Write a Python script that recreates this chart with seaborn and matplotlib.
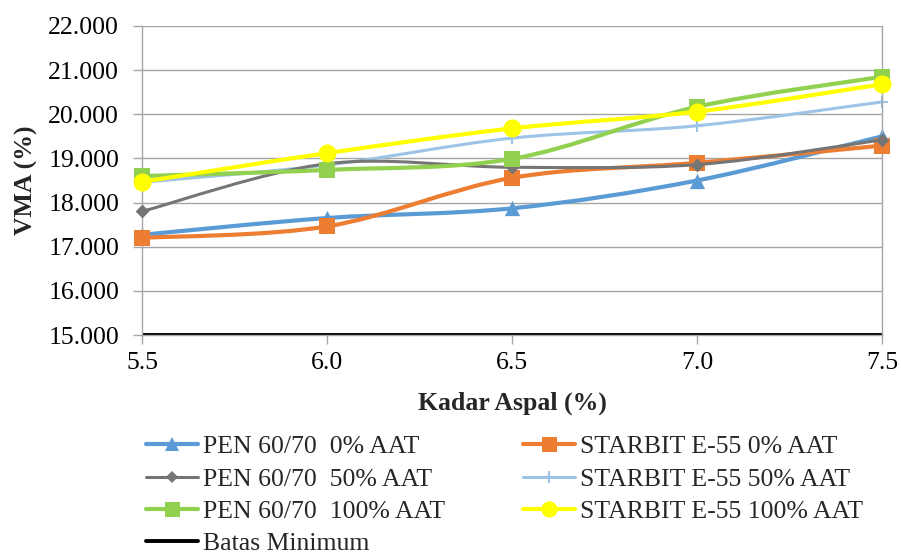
import matplotlib
matplotlib.use("Agg")
import matplotlib.pyplot as plt
import seaborn as sns
import numpy as np
import pandas as pd
from matplotlib.path import Path
from matplotlib.patches import PathPatch
from matplotlib.lines import Line2D
from matplotlib.ticker import FormatStrFormatter

kadar = [5.5, 6.0, 6.5, 7.0, 7.5]
pen_0 = [17.27, 17.65, 17.87, 18.50, 19.50]
starbit_0 = [17.20, 17.46, 18.56, 18.90, 19.29]
pen_50 = [17.80, 18.88, 18.80, 18.86, 19.42]
starbit_50 = [18.46, 18.85, 19.46, 19.74, 20.28]
pen_100 = [18.60, 18.74, 18.99, 20.17, 20.85]
starbit_100 = [18.47, 19.12, 19.68, 20.06, 20.68]
batas = [15.0, 15.0, 15.0, 15.0, 15.0]

labels = ["PEN 60/70  0% AAT", "STARBIT E-55 0% AAT",
          "PEN 60/70  50% AAT", "STARBIT E-55 50% AAT",
          "PEN 60/70  100% AAT", "STARBIT E-55 100% AAT",
          "Batas Minimum"]

sns.set_theme(style="white")
plt.rcParams['font.family'] = 'serif'
plt.rcParams['font.serif'] = ['Liberation Serif', 'DejaVu Serif']

FS = 18.5

series = [
    (pen_0, "#5B9BD5", 3.0, "^", 11, 2),
    (starbit_0, "#ED7D31", 3.0, "s", 12, 3),
    (pen_50, "#757575", 2.2, "D", 7, 4),
    (starbit_50, "#9DC3E6", 2.2, "+", 9, 1),
    (pen_100, "#92D050", 3.0, "s", 12, 5),
    (starbit_100, "#FFFF00", 3.0, "o", 13, 6),
    (batas, "#000000", 2.8, None, 0, 1.5),
]

fig = plt.figure(figsize=(9.01, 5.54), dpi=100)
L, R, T, B = 142, 882, 26, 335
ax = fig.add_axes([L/901, 1-B/554, (R-L)/901, (B-T)/554])

def smooth_path(xs, ys):
    pts = np.column_stack([xs, ys]).astype(float)
    n = len(pts)
    verts = [pts[0]]
    codes = [Path.MOVETO]
    for i in range(n - 1):
        p0 = pts[i - 1] if i > 0 else pts[i]
        p1 = pts[i]
        p2 = pts[i + 1]
        p3 = pts[i + 2] if i + 2 < n else pts[i + 1]
        c1 = p1 + (p2 - p0) / 6.0
        c2 = p2 - (p3 - p1) / 6.0
        verts += [c1, c2, p2]
        codes += [Path.CURVE4] * 3
    return Path(verts, codes)

handles = []
for (vals, col, lw, mk, ms, z), lab in zip(series, labels):
    patch = PathPatch(smooth_path(kadar, vals), facecolor="none", edgecolor=col,
                      lw=lw, zorder=z, capstyle="round", joinstyle="round")
    ax.add_patch(patch)
    if mk is not None:
        df = pd.DataFrame({"x": kadar, "y": vals})
        sns.scatterplot(data=df, x="x", y="y", marker=mk, s=ms**2, color=col,
                        edgecolor=col if mk != "+" else None,
                        linewidth=1.5 if mk == "+" else 0, ax=ax, zorder=z + 0.5,
                        legend=False, clip_on=False)
    handles.append(Line2D([], [], color=col, lw=lw, marker=mk,
                          markersize=ms * 0.9 if mk else 0, markeredgecolor=col,
                          markeredgewidth=1.5 if mk == "+" else 0))

# legend is filled column by column: left column PEN + Batas, right column STARBIT
order = [0, 2, 4, 6, 1, 3, 5]
leg_h = [handles[i] for i in order]
leg_l = [labels[i] for i in order]

ax.set_xlim(5.5, 7.5)
ax.set_ylim(15, 22)
ax.set_xticks(kadar)
ax.set_yticks(np.arange(15, 22.5, 1))
ax.xaxis.set_major_formatter(FormatStrFormatter("%.1f"))
ax.yaxis.set_major_formatter(FormatStrFormatter("%.3f"))
ax.grid(axis="y", color="#A6A6A6", lw=1.0)
ax.set_axisbelow(True)
ax.spines["top"].set_visible(False)
for s in ["left", "right", "bottom"]:
    ax.spines[s].set_color("#A6A6A6")
    ax.spines[s].set_linewidth(1.0)
ax.tick_params(axis="both", labelsize=FS, colors="#A6A6A6", labelcolor="black",
               length=6.5, width=1.0, direction="out", left=True, bottom=True)
ax.tick_params(axis="x", pad=6)
ax.tick_params(axis="y", pad=10)
ax.set_xlabel("Kadar Aspal (%)", fontsize=FS, fontweight="bold")
ax.set_ylabel("VMA (%)", fontsize=FS, fontweight="bold")
ax.xaxis.set_label_coords(0.5, (B-392)/(B-T))
ax.yaxis.set_label_coords((38-L)/(R-L), 0.5)

fig.legend(handles=leg_h, labels=leg_l, loc="upper left",
           bbox_to_anchor=(136/901, 1-425/554), ncol=2, frameon=False,
           fontsize=FS, handlelength=2.0, handletextpad=0.2,
           columnspacing=3.05, labelspacing=0.36, borderaxespad=0)

fig.savefig("out.png", dpi=100)
